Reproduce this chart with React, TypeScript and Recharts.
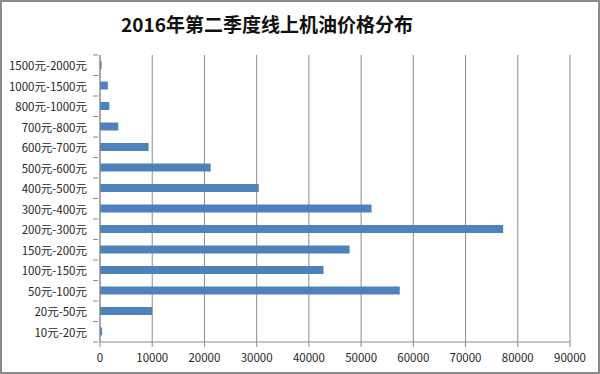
import React from "react";
import { BarChart, Bar, XAxis, YAxis, CartesianGrid } from "recharts";

// 价格区间（从上到下）
const priceRanges = [
  "1500元-2000元",
  "1000元-1500元",
  "800元-1000元",
  "700元-800元",
  "600元-700元",
  "500元-600元",
  "400元-500元",
  "300元-400元",
  "200元-300元",
  "150元-200元",
  "100元-150元",
  "50元-100元",
  "20元-50元",
  "10元-20元",
];

// 销量
const counts = [
  300, 1500, 1800, 3500, 9300, 21200, 30400, 52000, 77200, 47800, 42800, 57400,
  10000, 400,
];

const xTicks = [0, 10000, 20000, 30000, 40000, 50000, 60000, 70000, 80000, 90000];

const W = 600;
const H = 374;
const X_AXIS_H = 24;
const MARGIN = { top: 55, right: 30, bottom: 8, left: 8 };
const BAND = (H - MARGIN.top - MARGIN.bottom - X_AXIS_H) / priceRanges.length;

const colors = {
  bar: "#4F81BD",
  grid: "#8C8C8C",
  axis: "#8C8C8C",
  text: "#262626",
  border: "#8A8A8A",
};

const font = '"Noto Sans CJK SC", "Noto Sans", sans-serif';

const data = priceRanges.map((range, i) => ({ range, count: counts[i] }));

// Excel 风格：刻度线在类别边界上
const CategoryTick = ({ x, y, payload, index }: any) => {
  const axisX = x + 6;
  return (
    <g>
      <text
        x={axisX - 11}
        y={y}
        textAnchor="end"
        dominantBaseline="central"
        fontSize={11.5}
        fontFamily={font}
        fill={colors.text}
      >
        {payload.value}
      </text>
      <line x1={axisX - 5} x2={axisX} y1={y + BAND / 2} y2={y + BAND / 2} stroke={colors.axis} />
      {index === 0 && (
        <line x1={axisX - 5} x2={axisX} y1={y - BAND / 2} y2={y - BAND / 2} stroke={colors.axis} />
      )}
    </g>
  );
};

export default function App() {
  return (
    <div
      style={{
        position: "absolute",
        left: 0,
        top: 0,
        width: W,
        height: H,
        boxSizing: "border-box",
        border: `2px solid ${colors.border}`,
        background: "#fff",
      }}
    >
      <div
        style={{
          position: "absolute",
          left: 0,
          top: 8,
          width: 530,
          textAlign: "center",
          fontFamily: font,
          fontWeight: 700,
          fontSize: 19,
          color: "#111",
        }}
      >
        2016年第二季度线上机油价格分布
      </div>
      <div style={{ position: "absolute", left: -2, top: -2 }}>
        <BarChart width={W} height={H} data={data} layout="vertical" margin={MARGIN}>
          <CartesianGrid horizontal={false} stroke={colors.grid} />
          <XAxis
            type="number"
            domain={[0, 90000]}
            ticks={xTicks}
            interval={0}
            height={X_AXIS_H}
            stroke={colors.axis}
            tickSize={5}
            tick={{ fill: colors.text, fontSize: 11.5, fontFamily: font }}
            tickMargin={7}
          />
          <YAxis
            type="category"
            dataKey="range"
            width={92}
            interval={0}
            stroke={colors.axis}
            tickLine={false}
            tick={<CategoryTick />}
          />
          <Bar dataKey="count" fill={colors.bar} barSize={8} isAnimationActive={false} />
        </BarChart>
      </div>
    </div>
  );
}
